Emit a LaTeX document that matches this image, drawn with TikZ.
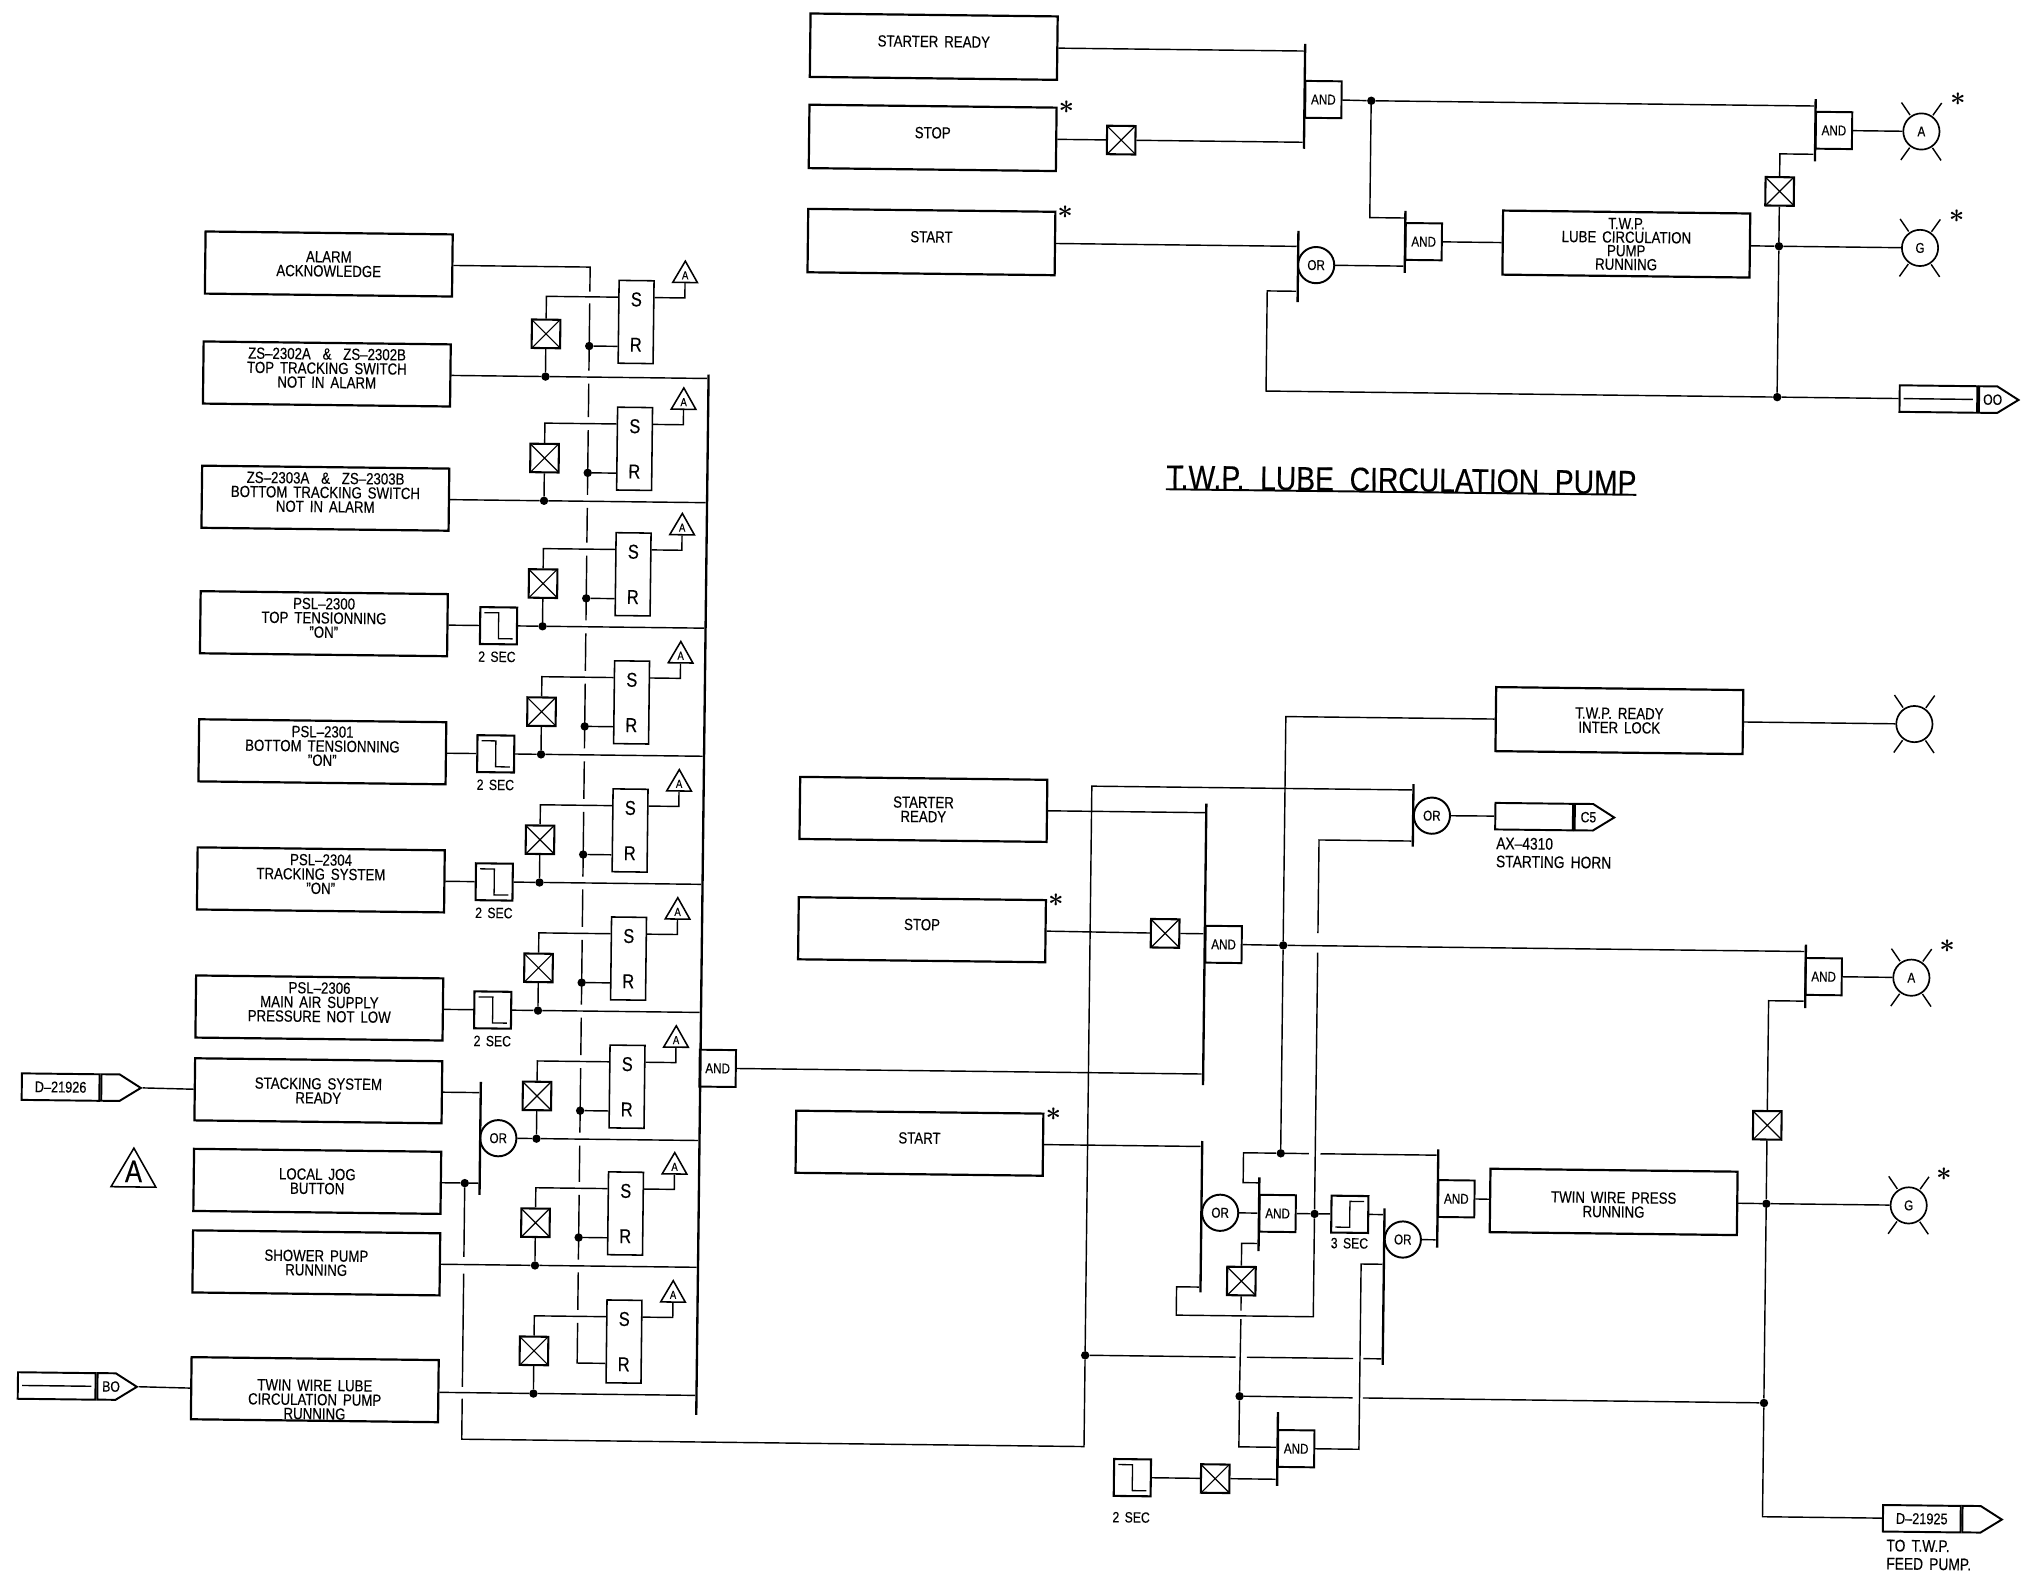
\documentclass[tikz,border=0pt]{standalone}
\usepackage{amsmath}
\usepackage{fontspec}
\setmainfont[FakeStretch=0.82,WordSpace=1.6,FakeBold=0.3]{Liberation Sans}
\newfontfamily\titlefont[FakeStretch=0.84,WordSpace=2,FakeBold=0.3]{Liberation Sans}
\usetikzlibrary{positioning,calc,shapes.geometric,shapes.symbols}

\begin{document}
\begin{tikzpicture} [
    x=1pt, y=-1pt,
    block/.style    = { rectangle, draw, line width=1.7pt, align=center, inner sep=0pt,
                        minimum width=191pt, minimum height=48pt,
                        font=\fontsize{12.5}{11}\selectfont },
    line/.style     = { draw, line width=1.1pt },
    bar/.style      = { rectangle, fill=black, inner sep=0pt, minimum width=1.8pt },
    gate/.style     = { rectangle, draw, line width=1.5pt, inner sep=0pt, minimum width=28pt,
                        minimum height=28.5pt, font=\fontsize{11}{11}\selectfont },
    orgate/.style   = { circle, draw, line width=1.5pt, inner sep=0pt, minimum size=28pt,
                        font=\fontsize{11}{11}\selectfont },
    xbox/.style     = { rectangle, draw, line width=1.6pt, inner sep=0pt, minimum size=22pt,
                        path picture={\draw[line width=.9pt]
                          (path picture bounding box.north west) -- (path picture bounding box.south east)
                          (path picture bounding box.north east) -- (path picture bounding box.south west);} },
    timerf/.style   = { rectangle, draw, line width=1.6pt, inner sep=0pt, minimum size=28.5pt,
                        path picture={\draw[line width=1pt]
                          ([xshift=-11pt,yshift=10pt]path picture bounding box.center)
                          -- ++(11pt,0pt) -- ++(0pt,-20pt) -- ++(11pt,0pt);} },
    timerr/.style   = { rectangle, draw, line width=1.6pt, inner sep=0pt, minimum size=28.5pt,
                        path picture={\draw[line width=1pt]
                          ([xshift=-11pt,yshift=-10pt]path picture bounding box.center)
                          -- ++(11pt,0pt) -- ++(0pt,20pt) -- ++(11pt,0pt);} },
    latch/.style    = { rectangle, draw, line width=1.2pt, align=center, inner sep=0pt, minimum width=27pt,
                        minimum height=64pt, font=\fontsize{15.5}{35}\selectfont },
    alarm/.style    = { regular polygon, regular polygon sides=3, draw, line width=1.2pt, inner sep=0pt,
                        minimum size=22pt, font=\fontsize{9}{9}\selectfont },
    dot/.style      = { circle, fill=black, inner sep=0pt, minimum size=6.5pt },
    lamp/.style     = { circle, draw, line width=1.3pt, inner sep=0pt, minimum size=28pt,
                        font=\fontsize{11}{11}\selectfont },
    aster/.style    = { inner sep=0pt, font=\fontsize{20}{20}\selectfont },
    tagbody/.style  = { rectangle, draw, line width=1.5pt, inner sep=0pt, minimum width=60pt,
                        minimum height=20.5pt, font=\fontsize{12}{10}\selectfont },
    tagend/.style   = { signal, signal to=east, signal pointer angle=64, draw, line width=1.5pt, inner sep=0pt,
                        minimum width=30.5pt, minimum height=20.5pt, font=\fontsize{11.5}{10}\selectfont },
    small/.style    = { inner sep=0pt, font=\fontsize{11.5}{10}\selectfont },
    legend/.style   = { inner sep=0pt, align=left, font=\fontsize{13}{14}\selectfont },
  ]
  \useasboundingbox (0,0) rectangle (1568,1215.6);
  \begin{scope}[rotate=-0.68, transform shape]

  % Define nodes: left column
  \node[block](alarmack) at (256.5,201){ALARM\\ACKNOWLEDGE};
  \node[block, text depth=9pt](zsa) at (256,286){ZS--2302A \ \& \ ZS--2302B\\TOP TRACKING SWITCH\\NOT IN ALARM};
  \node[block, text depth=9pt](zsb) at (256,382){ZS--2303A \ \& \ ZS--2303B\\BOTTOM TRACKING SWITCH\\NOT IN ALARM};
  \node[block, text depth=9pt](pslA) at (256,479){PSL--2300\\TOP TENSIONNING\\"ON"};
  \node[block, text depth=9pt](pslB) at (256,578){PSL--2301\\BOTTOM TENSIONNING\\"ON"};
  \node[block, text depth=9pt](pslC) at (256,677){PSL--2304\\TRACKING SYSTEM\\"ON"};
  \node[block, text depth=9pt](pslD) at (256,776){PSL--2306\\MAIN AIR SUPPLY\\PRESSURE NOT LOW};
  \node[block](stacking) at (256,840){STACKING SYSTEM\\READY};
  \node[block](localjog) at (256,910){LOCAL JOG\\BUTTON};
  \node[block](shower) at (256,973){SHOWER PUMP\\RUNNING};
  \node[block, text height=46pt](twinlube) at (256,1071){TWIN WIRE LUBE\\CIRCULATION PUMP\\RUNNING};

  \node[tagbody](dtagA) at (56.8,839.5){D--21926};
  \node[tagend, right=0pt of dtagA](dendA){};
  \node[tagbody](botag) at (56.5,1070.5){};
  \node[tagend, right=0pt of botag](boend){\makebox[0pt]{\hspace{7pt}BO}};
  \node[alarm, minimum size=40pt](legendtri) at (114,906){};
  \node[font=\fontsize{24}{24}\selectfont, inner sep=0pt](legendA) at (114,904){A};

  % Define nodes: timers on the inputs
  \node[timerf](tmA) at (391,479){};
  \node[small](tmAl) at (390,503){2 SEC};
  \node[timerf](tmB) at (390,578){};
  \node[small](tmBl) at (390,602){2 SEC};
  \node[timerf](tmC) at (390,677){};
  \node[small](tmCl) at (390,701){2 SEC};
  \node[timerf](tmD) at (390,776){};
  \node[small](tmDl) at (390,800){2 SEC};
  \node[bar, minimum height=87.4pt](barOL) at (381.5,875.3){};
  \node[orgate](gOL) at (395.5,875){OR};
  \node[dot](jnLocal) at (370,910){};

  % Define nodes: the nine latches
  \node[latch](lat1) at (494.5,243){S\\R};
  \node[xbox](xb1) at (425,253){};
  \node[alarm](al1) at (532,206.5){A};
  \node[dot](jn1) at (425,286){};
  \node[dot](rs1) at (458.5,262){};

  \node[latch](lat2) at (494.5,341){S\\R};
  \node[xbox](xb2) at (425,349){};
  \node[alarm](al2) at (532,304.5){A};
  \node[dot](jn2) at (425,382){};
  \node[dot](rs2) at (458.5,360){};

  \node[latch](lat3) at (494.5,438){S\\R};
  \node[xbox](xb3) at (425,446){};
  \node[alarm](al3) at (532,401.5){A};
  \node[dot](jn3) at (425,479){};
  \node[dot](rs3) at (458.5,457){};

  \node[latch](lat4) at (494.5,537){S\\R};
  \node[xbox](xb4) at (425,545){};
  \node[alarm](al4) at (532,500.5){A};
  \node[dot](jn4) at (425,578){};
  \node[dot](rs4) at (458.5,556){};

  \node[latch](lat5) at (494.5,636){S\\R};
  \node[xbox](xb5) at (425,644){};
  \node[alarm](al5) at (532,599.5){A};
  \node[dot](jn5) at (425,677){};
  \node[dot](rs5) at (458.5,655){};

  \node[latch](lat6) at (494.5,735){S\\R};
  \node[xbox](xb6) at (425,743){};
  \node[alarm](al6) at (532,698.5){A};
  \node[dot](jn6) at (425,776){};
  \node[dot](rs6) at (458.5,754){};

  \node[latch](lat7) at (494.5,834){S\\R};
  \node[xbox](xb7) at (425,842){};
  \node[alarm](al7) at (532,797.5){A};
  \node[dot](jn7) at (425,875){};
  \node[dot](rs7) at (458.5,853){};

  \node[latch](lat8) at (494.5,932){S\\R};
  \node[xbox](xb8) at (425,940){};
  \node[alarm](al8) at (532,895.5){A};
  \node[dot](jn8) at (425,973){};
  \node[dot](rs8) at (458.5,951){};

  \node[latch](lat9) at (494.5,1031){S\\R};
  \node[xbox](xb9) at (425,1039){};
  \node[alarm](al9) at (532,994.5){A};
  \node[dot](jn9) at (425,1072){};

  \node[bar, minimum height=804pt](bus) at (551,685){};
  \node[gate](gMain) at (564.4,819){AND};

  % Define nodes: lube circulation pump
  \node[block, minimum height=49pt, text depth=8pt](startreadyT) at (722,27.5){STARTER READY};
  \node[block, minimum height=49pt, text depth=8pt](stopT) at (722,98){STOP};
  \node[block, minimum height=49pt, text depth=8pt](startT) at (722,178.5){START};
  \node[aster](stopTs) at (825,73.4){$\boldsymbol{\ast}$};
  \node[aster](startTs) at (825,154){$\boldsymbol{\ast}$};
  \node[xbox](xbS) at (867.7,98){};
  \node[bar, minimum height=81pt](barA1) at (1009,62.5){};
  \node[gate](gA1) at (1023.6,64.8){AND};
  \node[dot](jnT1) at (1060.6,65.3){};
  \node[bar, minimum height=55pt](barO1) at (1005.5,194){};
  \node[orgate](gO1) at (1019.5,192.8){OR};
  \node[bar, minimum height=48pt](barA2) at (1088,174){};
  \node[gate](gA2) at (1102.4,173.7){AND};
  \node[block, minimum height=49.5pt, font=\fontsize{12.5}{10.5}\selectfont](twplube) at (1259,173.7){T.W.P.\\LUBE CIRCULATION\\PUMP\\RUNNING};
  \node[dot](jnT2) at (1377,174){};
  \node[xbox](xbT) at (1377,131.6){};
  \node[dot](jnT3) at (1377,290.6){};
  \node[bar, minimum height=48pt](barA3) at (1404,84){};
  \node[gate](gA3) at (1418.4,84){AND};
  \node[lamp](lampA) at (1486,84){A};
  \node[aster](lampAs) at (1514,59){$\boldsymbol{\ast}$};
  \node[lamp](lampG) at (1486,174){G};
  \node[aster](lampGs) at (1514,149.4){$\boldsymbol{\ast}$};
  \coordinate (cornerT) at (982,290.6);
  \node[tagbody](ootag) at (1501.6,290.6){};
  \node[tagend, right=0pt of ootag](ooend){\makebox[0pt]{\hspace{7pt}OO}};
  \node[inner sep=0pt, font=\titlefont\fontsize{26}{26}\selectfont](title) at (1087.4,358){T.W.P. LUBE CIRCULATION PUMP};

  % Define nodes: twin wire press
  \node[block, minimum height=49.5pt](twpready) at (1258,542){T.W.P. READY\\INTER LOCK};
  \node[lamp](lampR) at (1486,542){};
  \node[bar, minimum height=48.3pt](barO2) at (1099.5,617.2){};
  \node[orgate](gO2) at (1114,617.2){OR};
  \node[tagbody](c5tag) at (1193,617){};
  \node[tagend, right=0pt of c5tag](c5end){\makebox[0pt]{\hspace{7pt}C5}};
  \node[legend, anchor=west](horn) at (1163.8,645){AX--4310\\STARTING HORN};
  \node[block](startreadyB) at (721,617){STARTER\\READY};
  \node[block, text depth=8pt](stopB) at (721,710){STOP};
  \node[block, text depth=8pt](startB) at (721,875){START};
  \node[aster](stopBs) at (824.3,686){$\boldsymbol{\ast}$};
  \node[aster](startBs) at (824.2,851.3){$\boldsymbol{\ast}$};
  \node[xbox](xbL) at (908.9,710.6){};
  \node[bar, minimum height=217.5pt](barA4) at (939.6,718.7){};
  \node[gate](gA4) at (954.2,718.6){AND};
  \node[dot](jnM) at (1000.3,718.8){};
  \node[bar, minimum height=49pt](barA6) at (1404.2,738){};
  \node[gate](gA6) at (1418.2,738){AND};
  \node[lamp](lampA2) at (1486,738){A};
  \node[aster](lampA2s) at (1513.3,713){$\boldsymbol{\ast}$};
  \node[xbox](xbR) at (1376,853.4){};
  \node[bar, minimum height=117pt](barO4) at (939.5,929.2){};
  \node[orgate](gO4) at (954,926){OR};
  \node[bar, minimum height=57pt](barA7) at (984,926.7){};
  \node[gate](gA7) at (998.4,926){AND};
  \node[dot](jnH) at (1000.3,879.5){};
  \node[dot](jnA7) at (1027,926){};
  \node[timerr](tmS) at (1054.2,926){};
  \node[small](tmSl) at (1054.2,948.4){3 SEC};
  \node[bar, minimum height=121pt](barO3) at (1081,981.6){};
  \node[orgate](gO3) at (1095.4,945){OR};
  \node[bar, minimum height=76pt](barA8) at (1122,913){};
  \node[gate](gA8) at (1136.4,913){AND};
  \node[block, minimum height=49pt, text height=24pt](twinpress) at (1258,914){TWIN WIRE PRESS\\RUNNING};
  \node[dot](jnR1) at (1376,914){};
  \node[lamp](lampG2) at (1486,914){G};
  \node[aster](lampG2s) at (1513,889.4){$\boldsymbol{\ast}$};
  \node[xbox](xbM) at (971,978.6){};
  \node[dot](jnBot) at (851,1037.4){};
  \node[dot](jnL) at (970.7,1067.6){};
  \node[dot](jnR2) at (1376,1068){};
  \coordinate (cornerB) at (851,1108);
  \node[bar, minimum height=57pt](barA9) at (1000.5,1108){};
  \node[gate](gA9) at (1014.9,1107.6){AND};
  \node[timerf](tmF) at (888.6,1131.5){};
  \node[small](tmFl) at (888,1162.2){2 SEC};
  \node[xbox](xbB) at (952.6,1131.5){};
  \node[tagbody](dtagB) at (1499,1156){D--21925};
  \node[tagend, right=0pt of dtagB](dendB){};
  \node[legend, anchor=west](feed) at (1471.8,1184){TO T.W.P.\\FEED PUMP.};

  % connect the nodes: left column
  \path [line] (dendA.east) -- (stacking.west);
  \path [line] (boend.east) -- (twinlube.west);
  \path [line] ([xshift=4pt]botag.west) -- ([xshift=-4pt]botag.east);
  \path [line] (stacking.east) -- (stacking.east -| barOL.west);
  \path [line] (localjog.east) -- (jnLocal);
  \path [line] (jnLocal) -- (jnLocal -| barOL.west);
  \path [line] (pslA.east) -- (tmA);
  \path [line] (pslB.east) -- (tmB);
  \path [line] (pslC.east) -- (tmC);
  \path [line] (pslD.east) -- (tmD);
  \path [line] (zsa.east) -- (jn1);
  \path [line] (zsb.east) -- (jn2);
  \path [line] (tmA) -- (jn3);
  \path [line] (tmB) -- (jn4);
  \path [line] (tmC) -- (jn5);
  \path [line] (tmD) -- (jn6);
  \path [line] (gOL) -- (jn7);
  \path [line] (shower.east) -- (jn8);
  \path [line] (twinlube.east |- jn9) -- (jn9);

  % connect the nodes: latch cells
  \path [line] (jn1) -- (jn1 -| bus.west);
  \path [line] (jn1) -- (xb1);
  \path [line] (xb1) |- ([yshift=19pt]lat1.west);
  \path [line] ([yshift=19pt]lat1.east) -| (al1.south);
  \path [line] (rs1) -- (rs1 -| lat1.west);

  \path [line] (jn2) -- (jn2 -| bus.west);
  \path [line] (jn2) -- (xb2);
  \path [line] (xb2) |- ([yshift=19pt]lat2.west);
  \path [line] ([yshift=19pt]lat2.east) -| (al2.south);
  \path [line] (rs2) -- (rs2 -| lat2.west);

  \path [line] (jn3) -- (jn3 -| bus.west);
  \path [line] (jn3) -- (xb3);
  \path [line] (xb3) |- ([yshift=19pt]lat3.west);
  \path [line] ([yshift=19pt]lat3.east) -| (al3.south);
  \path [line] (rs3) -- (rs3 -| lat3.west);

  \path [line] (jn4) -- (jn4 -| bus.west);
  \path [line] (jn4) -- (xb4);
  \path [line] (xb4) |- ([yshift=19pt]lat4.west);
  \path [line] ([yshift=19pt]lat4.east) -| (al4.south);
  \path [line] (rs4) -- (rs4 -| lat4.west);

  \path [line] (jn5) -- (jn5 -| bus.west);
  \path [line] (jn5) -- (xb5);
  \path [line] (xb5) |- ([yshift=19pt]lat5.west);
  \path [line] ([yshift=19pt]lat5.east) -| (al5.south);
  \path [line] (rs5) -- (rs5 -| lat5.west);

  \path [line] (jn6) -- (jn6 -| bus.west);
  \path [line] (jn6) -- (xb6);
  \path [line] (xb6) |- ([yshift=19pt]lat6.west);
  \path [line] ([yshift=19pt]lat6.east) -| (al6.south);
  \path [line] (rs6) -- (rs6 -| lat6.west);

  \path [line] (jn7) -- (jn7 -| bus.west);
  \path [line] (jn7) -- (xb7);
  \path [line] (xb7) |- ([yshift=19pt]lat7.west);
  \path [line] ([yshift=19pt]lat7.east) -| (al7.south);
  \path [line] (rs7) -- (rs7 -| lat7.west);

  \path [line] (jn8) -- (jn8 -| bus.west);
  \path [line] (jn8) -- (xb8);
  \path [line] (xb8) |- ([yshift=19pt]lat8.west);
  \path [line] ([yshift=19pt]lat8.east) -| (al8.south);
  \path [line] (rs8) -- (rs8 -| lat8.west);

  \path [line] (jn9) -- (jn9 -| bus.west);
  \path [line] (jn9) -- (xb9);
  \path [line] (xb9) |- ([yshift=19pt]lat9.west);
  \path [line] ([yshift=19pt]lat9.east) -| (al9.south);

  % the acknowledge line, broken where it passes other lines
  \path [line] (alarmack.east) -| (458.5,220);
  \foreach \a/\b in {229/281, 291/317, 327/377, 387/414, 424/474, 484/513, 523/573, 583/612, 622/672,
      682/711, 721/771, 781/810, 820/870, 880/908, 918/968, 978/1007}
    \path [line] (458.5,\a) -- (458.5,\b);
  \path [line] (458.5,1017) |- (lat9.west |- 0,1048);

  % the line from the jog button to the press
  \path [line] (jnLocal) -- (370,967);
  \path [line] (370,980) -- (370,1067.5);
  \path [line] (370,1076.5) |- (cornerB) -- (jnBot);
  \path [line] (jnBot) |- (barO2.west |- 0,597.5);
  \path [line] (jnBot) -- (967.3,1037.4);
  \path [line] (976,1037.4) -- (1058,1037.4);
  \path [line] (1066,1037.4) -- (barO3.west |- 0,1037.4);
  \path [line] (gMain) -- (gMain -| barA4.west);

  % connect the nodes: lube circulation pump
  \path [line] (startreadyT.east) -- (startreadyT.east -| barA1.west);
  \path [line] (stopT.east) -- (xbS);
  \path [line] (xbS) -- (xbS -| barA1.west);
  \path [line] (gA1) -- (jnT1);
  \path [line] (jnT1) -- (jnT1 -| barA3.west);
  \path [line] (jnT1) |- (barA2.west |- 0,155.6);
  \path [line] (startT.east) -- (startT.east -| barO1.west);
  \path [line] (gO1) -- (gO1 -| barA2.west);
  \path [line] (gA2) -- (twplube);
  \path [line] (twplube) -- (jnT2);
  \path [line] (jnT2) -- (lampG);
  \path [line] (jnT3) -- (jnT2);
  \path [line] (jnT2) -- (xbT);
  \path [line] (xbT) |- (barA3.west |- 0,102.6);
  \path [line] (gA3) -- (lampA);
  \path [line] (barO1.west |- 0,213.2) -| (cornerT) -- (jnT3);
  \path [line] (jnT3) -- (ootag.west);
  \path [line] ([xshift=4pt]ootag.west) -- ([xshift=-4pt]ootag.east);
  \path [line, line width=1.5pt] (title.south west) -- (title.south east);

  % connect the nodes: twin wire press
  \path [line] (startreadyB.east) -- (startreadyB.east -| barA4.west);
  \path [line] (stopB.east) -- (xbL);
  \path [line] (xbL) -- (xbL -| barA4.west);
  \path [line] (gA4) -- (jnM);
  \path [line] (jnM) -- (jnM -| barA6.west);
  \path [line] (jnM) |- (twpready.west);
  \path [line] (twpready) -- (lampR);
  \path [line] (jnM) -- (jnH);
  \path [line] (gO2) -- (c5tag.west);
  \path [line] (gA6) -- (lampA2);
  \path [line] (startB.east) -- (startB.east -| barO4.west);
  \path [line] (gO4) -- (gO4 -| barA7.west);
  \path [line] (barA7.west |- 0,902.5) -| (jnH -| 971.5,0) -- (jnH);
  \path [line] (jnH) -- (1022,879.5);
  \path [line] (1031,879.5) -- (barA8.west |- 0,879.5);
  \path [line] (gA7) -- (jnA7);
  \path [line] (jnA7) -- (tmS);
  \path [line] (tmS) -- (tmS -| barO3.west);
  \path [line] (jnA7) -- (1027,724);
  \path [line] (1027,709) |- (barO2.west |- 0,637);
  \path [line] (jnA7) |- (921,1005.5) |- (barO4.west |- 0,983.6);
  \path [line] (gO3) -- (gO3 -| barA8.west);
  \path [line] (gA8) -- (twinpress);
  \path [line] (twinpress) -- (jnR1);
  \path [line] (jnR1) -- (lampG2);
  \path [line] (jnR1) -- (xbR);
  \path [line] (xbR) |- (barA6.west |- 0,757.1);
  \path [line] (jnR2) -- (jnR1);
  \path [line] (jnR2) |- (dtagB.west);
  \path [line] (barA7.west |- 0,949.4) -| (xbM);
  \path [line] (xbM) -- (971,1001.5);
  \path [line] (971,1008) -- (jnL);
  \path [line] (jnL) |- (barA9.west |- 0,1106.7);
  \path [line] (jnL) -- (1058,1067.8);
  \path [line] (1066,1067.8) -- (jnR2);
  \path [line] (gA9) -| (1063.4,964.3) -- (barO3.west |- 0,964.3);
  \path [line] (tmF) -- (xbB);
  \path [line] (xbB) -- (xbB -| barA9.west);

  % the rays of the lamps
  \foreach \l in {lampA,lampG,lampR,lampA2,lampG2}
    \foreach \a in {55,125,235,305}
      \path [line] ($(\l)!1.05!(\l.\a)$) -- ($(\l)!1.85!(\l.\a)$);
  \end{scope}
\end{tikzpicture}
\end{document}
